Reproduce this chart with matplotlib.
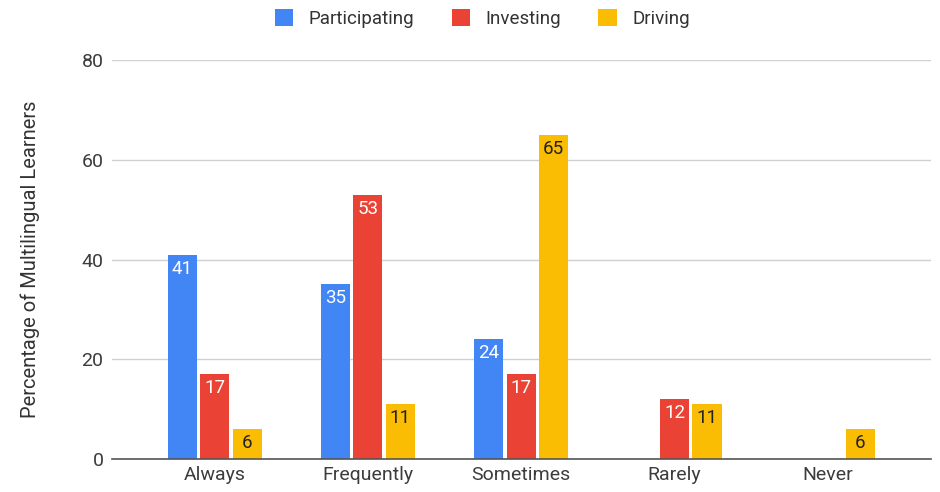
import matplotlib.pyplot as plt
import numpy as np

plt.rcParams['font.family'] = ['Roboto', 'DejaVu Sans']

categories = ['Always', 'Frequently', 'Sometimes', 'Rarely', 'Never']
participating = [41, 35, 24, 0, 0]
investing = [17, 53, 17, 12, 0]
driving = [6, 11, 65, 11, 6]

series = [
    ('Participating', participating, '#4285F4', 'white'),
    ('Investing', investing, '#EA4335', 'white'),
    ('Driving', driving, '#FBBC04', '#222222'),
]

fig = plt.figure(figsize=(9.4, 4.92), dpi=100)
ax = fig.add_axes([0.119, 0.067, 0.871, 0.811])

x = np.arange(len(categories))
width = 0.19
step = 0.212

for i, (name, vals, color, txt) in enumerate(series):
    pos = x + (i - 1) * step
    bars = ax.bar(pos, vals, width, color=color, label=name, zorder=3)
    for b, v in zip(bars, vals):
        if v > 0:
            ax.text(b.get_x() + b.get_width() / 2, v - 1.0, str(v),
                    ha='center', va='top', color=txt, fontsize=13.5, zorder=4)

ax.set_xlim(-0.67, 4.67)
ax.set_ylim(0, 80)
ax.set_yticks([0, 20, 40, 60, 80])
ax.set_xticks(x)
ax.set_xticklabels(categories)
ax.tick_params(axis='both', length=0, labelsize=14, colors='#3c3c3c')
ax.tick_params(axis='y', pad=6)
ax.tick_params(axis='x', pad=5)
ax.grid(axis='y', color='#d0d0d0', linewidth=1, zorder=0)
for s in ['top', 'right', 'left']:
    ax.spines[s].set_visible(False)
ax.spines['bottom'].set_color('#555555')
ax.spines['bottom'].set_linewidth(1.2)
ax.spines['bottom'].set_zorder(5)

ax.set_ylabel('Percentage of Multilingual Learners', fontsize=14.5, color='#333333', labelpad=30)

fig.legend(loc='upper center', bbox_to_anchor=(0.513, 1.015), ncol=3, frameon=False,
           fontsize=13.5, handlelength=1.0, handleheight=1.0, columnspacing=2.0,
           handletextpad=0.8, labelcolor='#333333')

fig.savefig('out.png', dpi=100)
